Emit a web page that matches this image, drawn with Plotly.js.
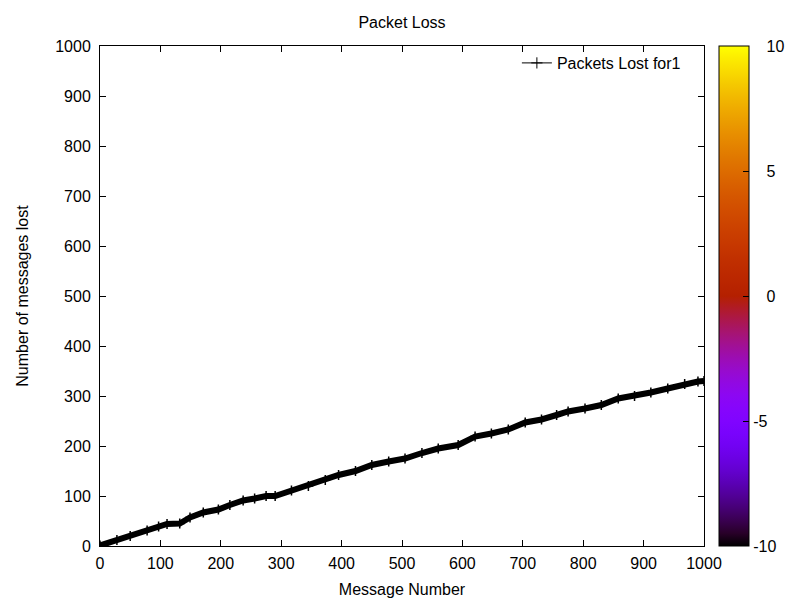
<!DOCTYPE html>
<html>
<head>
<meta charset="utf-8">
<script src="https://cdn.plot.ly/plotly-3.0.1.min.js"></script>
<style>html,body{margin:0;padding:0;background:#fff;}#chart{width:785px;height:600px;}</style>
</head>
<body>
<div id="chart"></div>
<script>
// Data
var messageNumber = [0, 28, 50, 78, 97, 111, 132, 149, 171, 196, 215, 237, 256, 275, 290, 317, 345, 373, 395, 423, 450, 478, 505, 533, 560, 593, 621, 648, 676, 704, 731, 756, 775, 803, 830, 858, 885, 912, 940, 968, 990, 1000];
var packetsLost   = [1, 12, 20, 31, 39, 44, 45, 57, 67, 73, 82, 91, 95, 100, 100, 111, 120, 132, 142, 150, 162, 169, 175, 186, 195, 202, 219, 225, 233, 247, 253, 262, 269, 275, 282, 295, 300, 307, 315, 324, 329, 330];
var seriesName = "Packets Lost for1";
var xTicks = [0, 100, 200, 300, 400, 500, 600, 700, 800, 900, 1000];
var yTicks = [0, 100, 200, 300, 400, 500, 600, 700, 800, 900, 1000];
var cbTicks = [-10, -5, 0, 5, 10];

// gnuplot default palette (rgbformulae 7,5,15)
var palette = [];
for (var i = 0; i <= 40; i++) {
  var t = i / 40;
  var r = Math.sqrt(t), g = Math.pow(t, 3), b = Math.max(0, Math.sin(2 * Math.PI * t));
  palette.push([t, 'rgb(' + Math.round(r * 255) + ',' + Math.round(g * 255) + ',' + Math.round(b * 255) + ')']);
}

var font = "'Liberation Sans', Arial, Helvetica, sans-serif";
var nb = '\u00a0';

var traces = [
  {
    x: messageNumber, y: packetsLost, type: 'scatter', mode: 'lines+markers',
    name: seriesName,
    line: {color: '#000', width: 6},
    marker: {symbol: 'cross-thin-open', size: 7, color: '#000', line: {color: '#000', width: 1.5}},
    showlegend: false
  },
  {
    x: [null], y: [null], type: 'scatter', mode: 'lines+markers',
    name: seriesName,
    line: {color: '#000', width: 1},
    marker: {symbol: 'cross-thin-open', size: 8, color: '#000', line: {color: '#000', width: 1}},
    showlegend: true, hoverinfo: 'skip'
  },
  {
    x: [null, null], y: [null, null], type: 'scatter', mode: 'markers',
    showlegend: false, hoverinfo: 'skip',
    marker: {
      color: [cbTicks[0], cbTicks[cbTicks.length - 1]],
      cmin: cbTicks[0], cmax: cbTicks[cbTicks.length - 1],
      colorscale: palette, showscale: true,
      colorbar: {
        x: 1.0248, xanchor: 'left', xref: 'paper', xpad: 0, ypad: 0,
        y: 0.5, yanchor: 'middle', len: 1, lenmode: 'fraction',
        thickness: 30, thicknessmode: 'pixels',
        outlinewidth: 1, outlinecolor: '#000',
        tickvals: cbTicks,
        ticktext: cbTicks.map(function (v) { return v < 0 ? String(v) : nb + nb + nb + String(v); }),
        ticks: 'inside', ticklen: 6, tickcolor: '#000',
        tickfont: {family: font, size: 16, color: '#000'}
      }
    }
  }
];

var layout = {
  width: 785, height: 600,
  margin: {l: 100, r: 81, t: 46, b: 54, autoexpand: false},
  paper_bgcolor: '#fff', plot_bgcolor: '#fff',
  font: {family: font, size: 16, color: '#000'},
  title: {text: 'Packet Loss', font: {family: font, size: 16, color: '#000'}, x: 0.5, xref: 'paper', y: 0.962, yref: 'container', yanchor: 'middle'},
  xaxis: {
    range: [0, 1000], tickvals: xTicks, ticktext: xTicks.map(String),
    showline: true, linecolor: '#000', linewidth: 1, mirror: 'ticks',
    ticks: 'inside', ticklen: 6, tickcolor: '#000', showgrid: false, zeroline: false,
    tickfont: {family: font, size: 16}, ticklabelstandoff: 3,
    title: {text: 'Message Number', font: {family: font, size: 16}, standoff: 12}
  },
  yaxis: {
    range: [0, 1000], tickvals: yTicks, ticktext: yTicks.map(String),
    showline: true, linecolor: '#000', linewidth: 1, mirror: 'ticks',
    ticks: 'inside', ticklen: 6, tickcolor: '#000', showgrid: false, zeroline: false,
    tickfont: {family: font, size: 16}, ticklabelstandoff: 5,
    title: {text: 'Number of messages lost', font: {family: font, size: 16}, standoff: 22}
  },
  legend: {x: 0.97, xanchor: 'right', y: 1.0, yanchor: 'top', bgcolor: 'rgba(0,0,0,0)', font: {family: font, size: 16}}
};

Plotly.newPlot('chart', traces, layout, {displayModeBar: false, staticPlot: true});
</script>
</body>
</html>
